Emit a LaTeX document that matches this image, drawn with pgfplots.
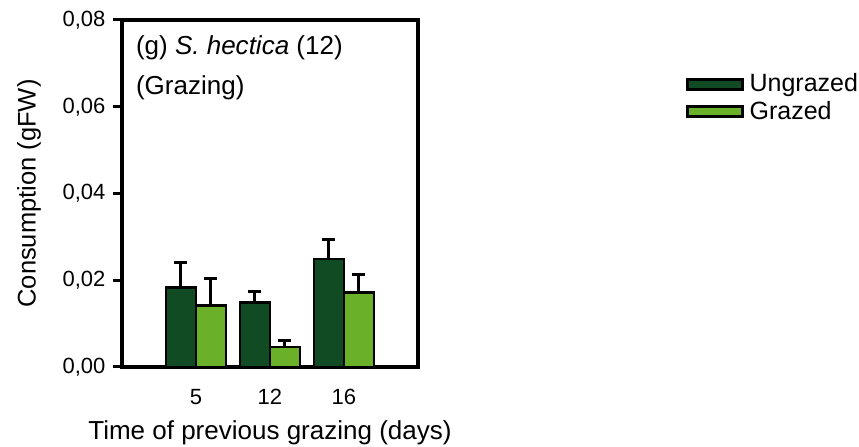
\documentclass[border=0pt]{standalone}
\usepackage{pgfplots}
\pgfplotsset{compat=1.18}
\usepackage{fontspec}
\setmainfont{Liberation Sans}
\definecolor{dkg}{RGB}{17,75,35}
\definecolor{ltg}{RGB}{106,176,40}
\begin{document}
\fontsize{22}{26}\selectfont
\begin{tikzpicture}
\begin{axis}[
  name=ax,
  scale only axis,
  width=296pt, height=347pt,
  xmin=0, xmax=4, ymin=0, ymax=0.08,
  scaled y ticks=false,
  axis line style={line width=3.2pt},
  ybar=0pt, bar width=30pt,
  xtick={1,2,3}, xticklabels={5,12,16},
  x tick style={draw=none},
  ytick={0,0.02,0.04,0.06,0.08},
  y tick style={line width=3pt, black},
  tick align=outside, ytick pos=left, xtick pos=bottom,
  major tick length=9pt,
  yticklabel style={/pgf/number format/fixed, /pgf/number format/fixed zerofill, /pgf/number format/precision=2, /pgf/number format/use comma, /pgf/number format/assume math mode=true},
  xticklabel style={/pgf/number format/assume math mode=true, yshift=-6pt},
  tick label style={font=\fontsize{22}{26}\selectfont},
  ylabel={Consumption (gFW)},
  ylabel style={at={(rel axis cs:-0.314,0.5)}, anchor=center, font=\fontsize{25.5}{30}\selectfont},
  clip=false,
  legend style={draw=none, fill=none, at={(rel axis cs:1.905,0.775)}, anchor=west,
    font=\fontsize{25}{30}\selectfont, row sep=2pt, inner sep=0pt, outer sep=0pt,
    nodes={inner xsep=6pt}},
  legend cell align=left,
  legend image code/.code={\draw[#1, line width=2.8pt] (0pt,-5pt) rectangle (55pt,5pt);},
  every axis plot/.append style={draw=black, line width=2.8pt},
]
\addplot[fill=dkg, error bars/.cd, y dir=plus, y explicit,
  error bar style={line width=3pt, black}, error mark options={rotate=90, mark size=6.5pt, line width=3pt, black}]
  coordinates {(1,0.0184) +- (0,0.0056) (2,0.0148) +- (0,0.0027) (3,0.0249) +- (0,0.0044)};
\addplot[fill=ltg, error bars/.cd, y dir=plus, y explicit,
  error bar style={line width=3pt, black}, error mark options={rotate=90, mark size=6.5pt, line width=3pt, black}]
  coordinates {(1,0.0141) +- (0,0.0062) (2,0.0046) +- (0,0.0016) (3,0.0171) +- (0,0.0043)};
\legend{Ungrazed,Grazed}
\node[anchor=west, inner sep=0pt, font=\fontsize{26}{30}\selectfont] at (rel axis cs:0.047,0.919) {(g) \textit{S. hectica} (12)};
\node[anchor=west, inner sep=0pt, font=\fontsize{26}{30}\selectfont] at (rel axis cs:0.047,0.804) {(Grazing)};
\node[inner sep=0pt, font=\fontsize{26}{30}\selectfont] at (rel axis cs:0.5,-0.190) {Time of previous grazing (days)};
\coordinate (bl) at (rel axis cs:-0.412,-0.2305);
\coordinate (tr) at (rel axis cs:2.490,1.0576);
\end{axis}
\pgfresetboundingbox
\path[use as bounding box] (bl) rectangle (tr);
\end{tikzpicture}
\end{document}
